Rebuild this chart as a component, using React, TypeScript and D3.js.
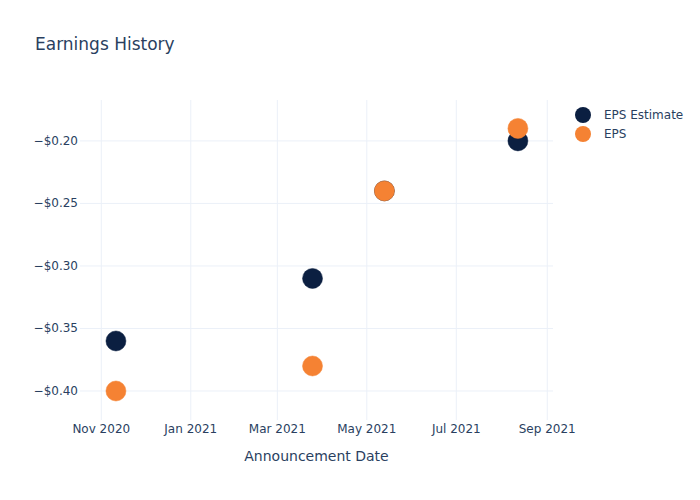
import React from "react";
import * as d3 from "d3";

const dates = ["2020-11-11", "2021-03-25", "2021-05-13", "2021-08-12"];
const epsEstimate = [-0.36, -0.31, -0.24, -0.2];
const eps = [-0.4, -0.38, -0.24, -0.19];
const yTicks = [-0.2, -0.25, -0.3, -0.35, -0.4];
const seriesNames = ["EPS Estimate", "EPS"];
const seriesColors = ["#0b1f41", "#f58233"];

const W = 700;
const H = 500;
const M = { l: 80, r: 147, t: 100, b: 80 };
const FONT = "'DejaVu Sans', 'Open Sans', sans-serif";
const TXT = "#2a3f5f";
const GRID = "#ebf0f8";

const parse = (s: string) => {
  const [y, m, d] = s.split("-").map(Number);
  return new Date(y, m - 1, d);
};

export default function App() {
  const x = d3
    .scaleTime()
    .domain([new Date(2020, 9, 17, 12), new Date(2021, 8, 4, 22)])
    .range([M.l, W - M.r]);
  const y = d3.scaleLinear().domain([-0.4232, -0.1673]).range([H - M.b, M.t]);
  const xTicks = x.ticks(d3.timeMonth.every(2)!);
  const fmtX = d3.timeFormat("%b %Y");
  const fmtY = (v: number) => (v < 0 ? "\u2212" : "") + "$" + Math.abs(v).toFixed(2);
  const series = [epsEstimate, eps];

  return (
    <svg
      width={W}
      height={H}
      style={{ position: "absolute", left: 0, top: 0, background: "#fff" }}
      fontFamily={FONT}
    >
      <rect x={0} y={0} width={W} height={H} fill="#fff" />
      {xTicks.map((t, i) => (
        <line key={"xg" + i} x1={x(t)} x2={x(t)} y1={M.t} y2={H - M.b} stroke={GRID} strokeWidth={1} />
      ))}
      {yTicks.map((v, i) => (
        <line key={"yg" + i} x1={M.l} x2={W - M.r} y1={y(v)} y2={y(v)} stroke={GRID} strokeWidth={1} />
      ))}
      {xTicks.map((t, i) => (
        <text key={"xt" + i} x={x(t)} y={433} textAnchor="middle" fontSize={12} fill={TXT}>
          {fmtX(t)}
        </text>
      ))}
      {yTicks.map((v, i) => (
        <text key={"yt" + i} x={78} y={y(v) + 4} textAnchor="end" fontSize={12} fill={TXT}>
          {fmtY(v)}
        </text>
      ))}
      <text x={(M.l + W - M.r) / 2} y={461} textAnchor="middle" fontSize={14} fill={TXT}>
        Announcement Date
      </text>
      <text x={35} y={50} fontSize={17} fill={TXT}>
        Earnings History
      </text>
      {series.map((vals, si) => (
        <g key={"s" + si}>
          {vals.map((v, i) => (
            <circle
              key={i}
              cx={x(parse(dates[i]))}
              cy={y(v)}
              r={10}
              fill={seriesColors[si]}
              stroke={seriesColors[si]}
              strokeWidth={0.5}
            />
          ))}
        </g>
      ))}
      {seriesNames.map((n, i) => (
        <g key={"lg" + i}>
          <circle cx={583} cy={115 + i * 19} r={8} fill={seriesColors[i]} />
          <text x={604} y={119 + i * 19} fontSize={12} fill={TXT}>
            {n}
          </text>
        </g>
      ))}
    </svg>
  );
}
